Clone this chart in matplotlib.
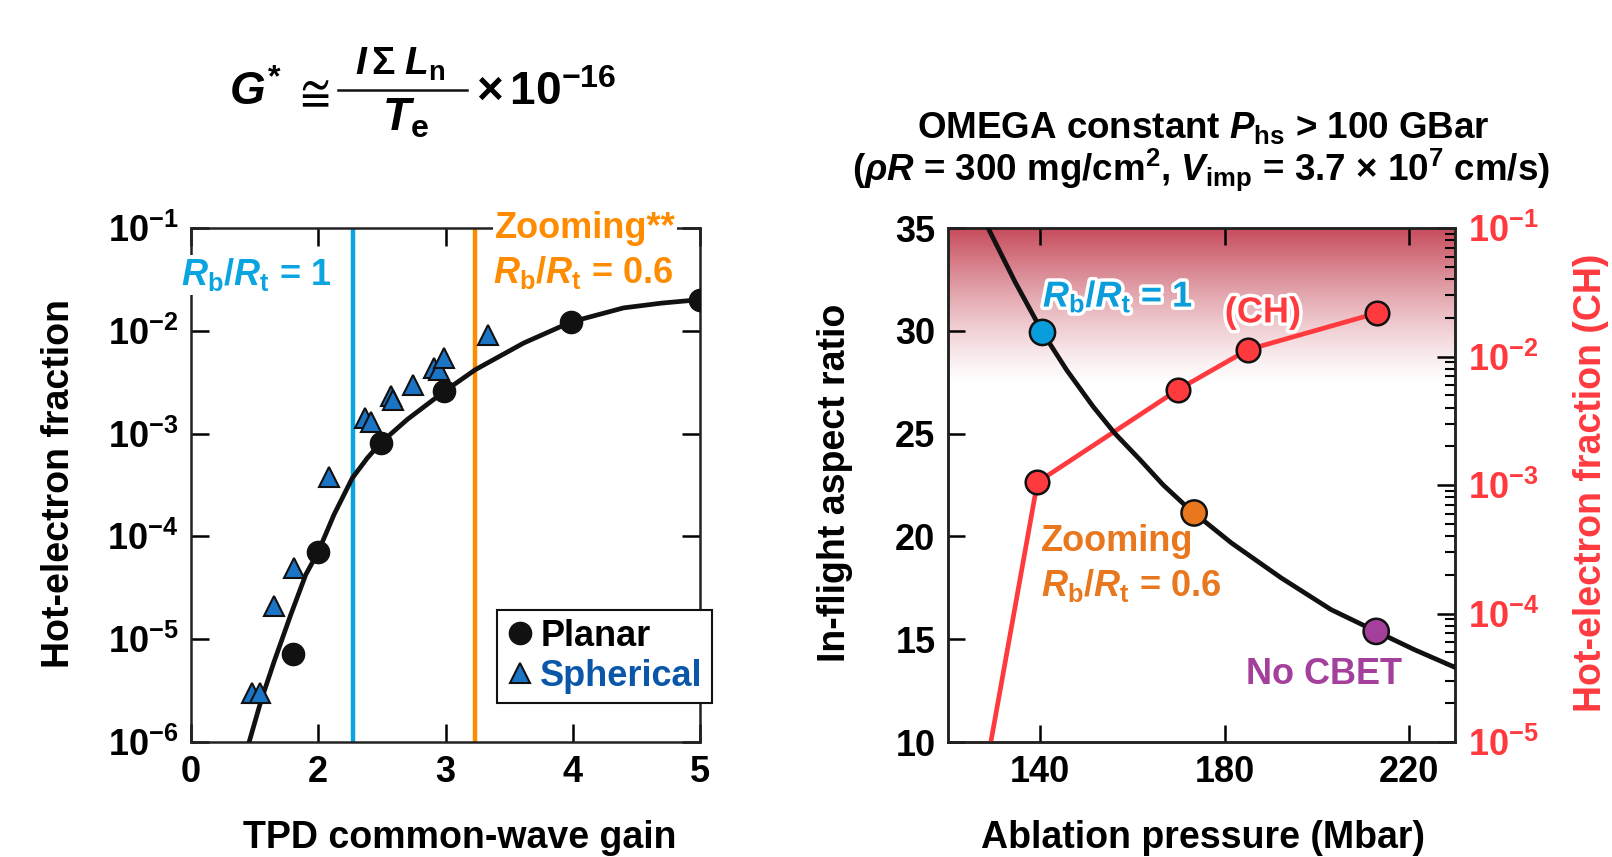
import numpy as np
import matplotlib
matplotlib.use("Agg")
import matplotlib.pyplot as plt
import matplotlib.patheffects as pe
from matplotlib.lines import Line2D
from matplotlib.ticker import NullLocator, LogLocator

plt.rcParams['font.family'] = ['Liberation Sans', 'DejaVu Sans']
plt.rcParams['font.weight'] = 'bold'
plt.rcParams['mathtext.fontset'] = 'custom'
plt.rcParams['mathtext.rm'] = 'Liberation Sans:bold'
plt.rcParams['mathtext.bf'] = 'Liberation Sans:bold'
plt.rcParams['mathtext.it'] = 'Liberation Sans:italic:bold'
plt.rcParams['mathtext.default'] = 'bf'

# ---- left panel: hot-electron fraction vs TPD gain ----
planar_gain = [1.80, 2.00, 2.49, 2.99, 3.99, 5.00]
planar_frac = [7.1e-6, 7.0e-5, 8.1e-4, 2.58e-3, 1.22e-2, 2.01e-2]

spher_gain = [1.478, 1.544, 1.654, 1.81, 2.085, 2.365, 2.412, 2.575, 2.585, 2.746,
              2.908, 2.948, 2.987, 3.335]
spher_frac = [3.0e-6, 3.0e-6, 2.09e-5, 4.93e-5, 3.76e-4, 1.42e-3, 1.31e-3, 2.31e-3, 2.14e-3,
              2.99e-3, 4.35e-3, 4.19e-3, 5.43e-3, 9.16e-3]

fit_gain = [1.457, 1.549, 1.654, 1.784, 1.902, 1.999, 2.124, 2.268, 2.386, 2.490, 2.699,
            2.992, 3.235, 3.614, 3.988, 4.399, 4.70, 5.00]
fit_frac = [1.0e-6, 2.49e-6, 6.10e-6, 1.73e-5, 4.25e-5, 7.05e-5, 1.63e-4, 3.70e-4, 5.79e-4,
            8.11e-4, 1.37e-3, 2.58e-3, 4.19e-3, 7.60e-3, 1.22e-2, 1.67e-2, 1.86e-2, 2.01e-2]

gain_rb1 = 2.276
gain_zoom = 3.235
gain_ticks = [1, 2, 3, 4, 5]
gain_ticklabels = ['0', '2', '3', '4', '5']

# ---- right panel: aspect ratio & hot electrons vs ablation pressure ----
pabl_curve = [128.7, 134.5, 140.5, 145.75, 151.5, 156.2, 161.7, 166.7, 171.8, 173.4,
              181.5, 192.3, 203.1, 212.9, 221.2, 230.0]
ifar_curve = [35.0, 32.4, 29.93, 28.09, 26.31, 25.01, 23.72, 22.5, 21.44, 21.14,
              19.68, 17.98, 16.44, 15.38, 14.49, 13.63]

case_p = [140.5, 173.4, 212.9]
case_ifar = [29.92, 21.14, 15.38]
case_colors = ['#0a9ddb', '#e8771e', '#a4409c']

ch_p = [129.3, 139.4, 169.9, 185.1, 213.1]
ch_frac = [1.0e-5, 1.05e-3, 5.52e-3, 1.13e-2, 2.18e-2]

W, H = 1612, 857
fig = plt.figure(figsize=(W / 100, H / 100), dpi=100)
ax1 = fig.add_axes([191 / W, 1 - 742 / H, (700 - 191) / W, (742 - 228) / H])
ax2 = fig.add_axes([948 / W, 1 - 742 / H, (1455 - 948) / W, (742 - 228) / H])
tw = ax2.twinx()

cyan = '#0aa5e0'
orange = '#ff8c00'
red = '#ff3a3f'
fs = 26
lab = 27

for ax in (ax1, ax2, tw):
    for s in ax.spines.values():
        s.set_linewidth(1.8)
        s.set_color('#222222')

# left
ax1.axvline(gain_rb1, color=cyan, lw=3.2, zorder=2)
ax1.axvline(gain_zoom, color=orange, lw=3.2, zorder=2)
ax1.plot(fit_gain, fit_frac, '-', color='#111111', lw=3.4, zorder=3)
ax1.plot(planar_gain, planar_frac, 'o', ms=16, mfc='#111111', mec='#111111', zorder=4)
ax1.plot(spher_gain, spher_frac, '^', ms=15, mfc='#1c74c4', mec='#111111', mew=1.5, zorder=4)
ax1.set_yscale('log')
ax1.set_xlim(1, 5)
ax1.set_ylim(1e-6, 1e-1)
ax1.set_xticks(gain_ticks)
ax1.set_xticklabels(gain_ticklabels)
ax1.set_yticks([10.0 ** k for k in range(-6, 0)])
ax1.set_yticklabels([r'$10^{%d}$' % k for k in range(-6, 0)])
ax1.yaxis.set_minor_locator(NullLocator())
ax1.tick_params(direction='in', length=13, width=1.8, top=True, right=True,
                labelsize=fs, pad=9)

wbox = dict(facecolor='white', edgecolor='none', pad=1)
ax1.text(-0.02, 0.909, r'$\mathit{R}_{b}/\mathit{R}_{t}$ = 1', transform=ax1.transAxes,
         color=cyan, fontsize=26, ha='left', va='center', bbox=wbox, zorder=6, clip_on=False)
ax1.text(0.597, 1.0, 'Zooming**', transform=ax1.transAxes, color=orange, fontsize=26,
         ha='left', va='center', bbox=wbox, zorder=6, clip_on=False)
ax1.text(0.593, 0.914, r'$\mathit{R}_{b}/\mathit{R}_{t}$ = 0.6', transform=ax1.transAxes,
         color=orange, fontsize=26, ha='left', va='center', zorder=6)

handles = [Line2D([], [], ls='none', marker='o', ms=16, mfc='#111111', mec='#111111'),
           Line2D([], [], ls='none', marker='^', ms=15, mfc='#1c74c4', mec='#111111', mew=1.5)]
leg = ax1.legend(handles, ['Planar', 'Spherical'], loc='lower left',
                 bbox_to_anchor=(497 / W, 1 - 703 / H), bbox_transform=fig.transFigure,
                 fontsize=26, frameon=True, fancybox=False, framealpha=1, borderaxespad=0,
                 handletextpad=0.15, handlelength=0.8, borderpad=0.25, labelspacing=0.15)
leg.get_frame().set_edgecolor('#111111')
leg.get_frame().set_linewidth(1.5)
leg.get_texts()[1].set_color('#0a56a8')
leg.set_zorder(7)

# right: main axes (linear) drawn above the log twin
ax2.set_zorder(2)
tw.set_zorder(1)
ax2.patch.set_visible(False)
tw.patch.set_visible(True)
tw.patch.set_facecolor('white')

grad = np.linspace(0, 1, 256)[:, None]
rgba = np.zeros((256, 1, 4))
rgba[..., 0], rgba[..., 1], rgba[..., 2] = 0.78, 0.29, 0.35
rgba[..., 3] = grad ** 1.3
tw.imshow(rgba, extent=[120, 230, 27.3, 35], origin='lower', aspect='auto',
          interpolation='bilinear', zorder=0, transform=ax2.transData)

ax2.plot(pabl_curve, ifar_curve, '-', color='#111111', lw=3.4, zorder=3)
ax2.scatter(case_p, case_ifar, s=330, c=case_colors, edgecolors='#111111', linewidths=1.8, zorder=4)
ax2.set_xlim(120, 230)
ax2.set_ylim(10, 35)
ax2.set_xticks([140, 180, 220])
ax2.set_yticks([10, 15, 20, 25, 30, 35])
ax2.tick_params(direction='in', length=12, width=1.8, top=True, right=False,
                labelsize=fs, pad=9)

stroke = [pe.withStroke(linewidth=5, foreground='white')]
ax2.text(140.6, 31.68, r'$\mathit{R}_{b}/\mathit{R}_{t}$ = 1', color='#0a9ddb', fontsize=26,
         ha='left', va='center', path_effects=stroke, zorder=6)
ax2.text(188.3, 30.87, '(CH)', color=red, fontsize=26, ha='center', va='center',
         path_effects=stroke, zorder=6)
ax2.text(140.2, 19.76, 'Zooming', color='#e8771e', fontsize=26, ha='left', va='center', zorder=6)
ax2.text(140.2, 17.6, r'$\mathit{R}_{b}/\mathit{R}_{t}$ = 0.6', color='#e8771e', fontsize=26,
         ha='left', va='center', zorder=6)
ax2.text(184.7, 13.28, 'No CBET', color='#a4409c', fontsize=26, ha='left', va='center', zorder=6)

tw.plot(ch_p, ch_frac, '-', color=red, lw=3.4, zorder=3)
tw.plot(ch_p[1:], ch_frac[1:], 'o', ms=17, mfc=red, mec='#111111', mew=1.8, zorder=4)
tw.set_yscale('log')
tw.set_xlim(120, 230)
tw.set_ylim(1e-5, 1e-1)
tw.set_yticks([10.0 ** k for k in range(-5, 0)])
tw.set_yticklabels([r'$10^{%d}$' % k for k in range(-5, 0)])
tw.yaxis.set_minor_locator(LogLocator(base=10, subs=np.arange(2, 10)))
tw.yaxis.set_minor_formatter(plt.NullFormatter())
tw.tick_params(which='major', direction='in', length=13, width=1.8, labelsize=fs,
               labelcolor=red, pad=9)
tw.tick_params(which='minor', direction='in', length=7, width=1.5)

# formula above the left panel
fig.text(229 / W, 1 - 105 / H, r'$\mathit{G}^{*}$', fontsize=33, ha='left', va='baseline')
fig.text(311 / W, 1 - 93 / H, r'$\cong$', fontsize=30, ha='center', va='center')
fig.text(400 / W, 1 - 75 / H, r'$\mathit{I}\,\Sigma\;\mathit{L}_{n}$', fontsize=28,
         ha='center', va='baseline')
fig.add_artist(Line2D([338 / W, 467 / W], [1 - 90 / H, 1 - 90 / H], color='#111111',
                      lw=1.8, transform=fig.transFigure))
fig.text(405 / W, 1 - 131 / H, r'$\mathit{T}_{e}$', fontsize=33, ha='center', va='baseline')
fig.text(476 / W, 1 - 105 / H, r'$\times\,10^{-16}$', fontsize=33, ha='left', va='baseline')

fig.text(1203 / W, 1 - 128 / H, r'OMEGA constant $\mathit{P}_{hs}$ > 100 GBar',
         fontsize=26.5, ha='center', va='center')
fig.text(1201 / W, 1 - 170 / H,
         r'($\mathit{\rho R}$ = 300 mg/cm$^{2}$, $\mathit{V}_{imp}$ = 3.7 $\times$ 10$^{7}$ cm/s)',
         fontsize=26.5, ha='center', va='center')
fig.text(460 / W, 1 - 838 / H, 'TPD common-wave gain', fontsize=lab, ha='center', va='center')
fig.text(1203 / W, 1 - 838 / H, 'Ablation pressure (Mbar)', fontsize=lab, ha='center', va='center')
fig.text(59 / W, 1 - 483 / H, 'Hot-electron fraction', fontsize=lab, rotation=90,
         ha='center', va='center')
fig.text(835 / W, 1 - 483 / H, 'In-flight aspect ratio', fontsize=lab, rotation=90,
         ha='center', va='center')
fig.text(1591 / W, 1 - 483 / H, 'Hot-electron fraction (CH)', fontsize=lab, rotation=90,
         ha='center', va='center', color=red)

fig.savefig('out.png', dpi=100)
